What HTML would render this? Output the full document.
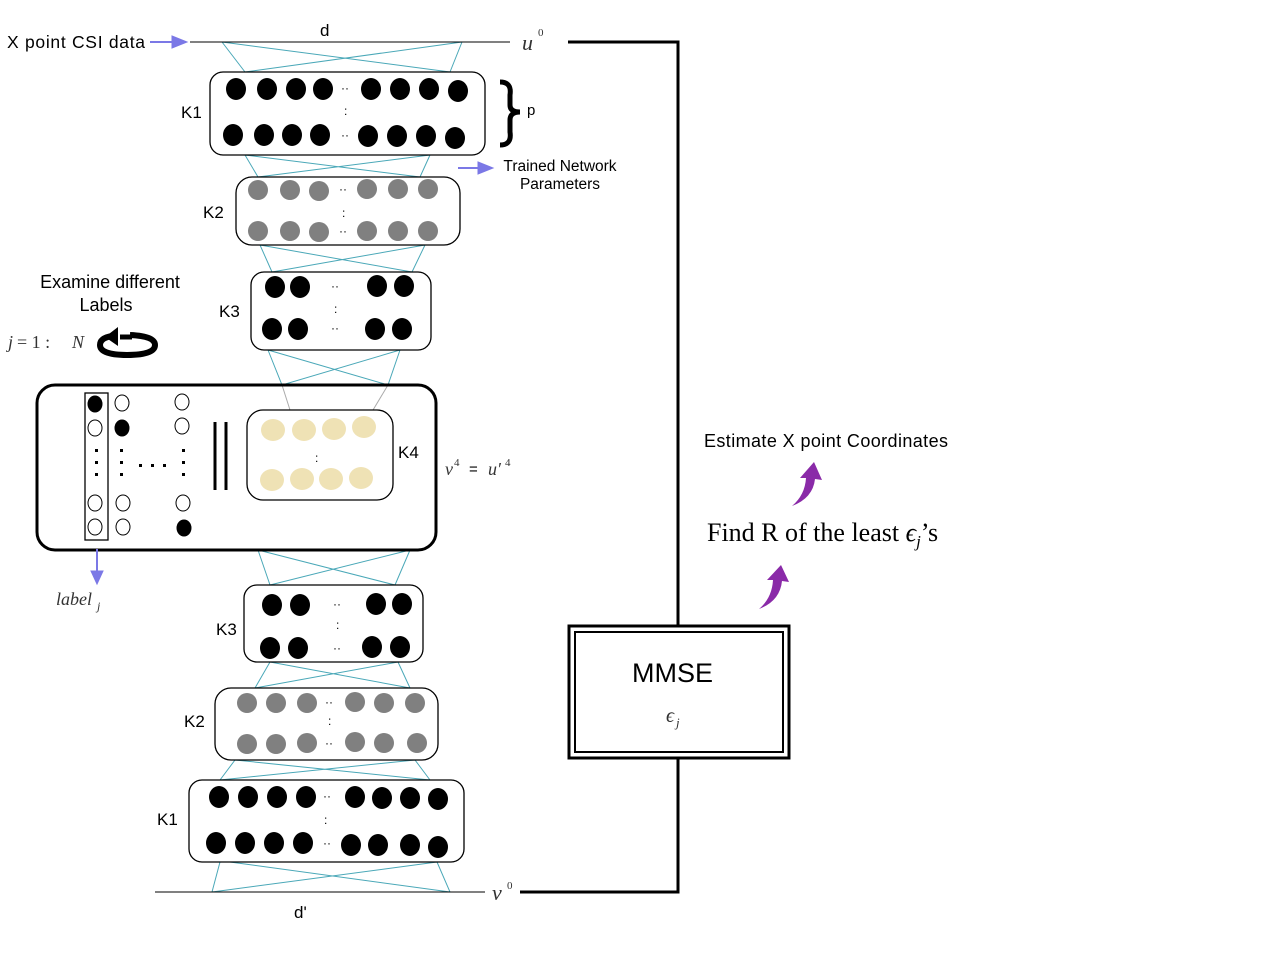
<!DOCTYPE html>
<html><head><meta charset="utf-8"><style>
html,body{margin:0;padding:0;background:#fff;width:1280px;height:976px;overflow:hidden}
svg{display:block}
.s{font-family:"Liberation Sans",sans-serif;fill:#000}
.m{font-family:"Liberation Serif",serif;font-style:italic;fill:#333}
</style></head><body>
<svg width="1280" height="976" viewBox="0 0 1280 976" xmlns="http://www.w3.org/2000/svg">
<g stroke="#4aa8b8" stroke-width="1" fill="none">
<path d="M222 42L245 72M462 42L450 72M222 42L450 72M462 42L245 72"/>
<path d="M245 155L258 177M430 155L420 177M245 155L420 177M430 155L258 177"/>
<path d="M260 245L272 272M425 245L412 272M260 245L412 272M425 245L272 272"/>
<path d="M268 350L282 385M400 350L388 385M268 350L388 385M400 350L282 385"/>
<path d="M258 550L270 585M410 550L395 585M258 550L395 585M410 550L270 585"/>
<path d="M270 662L255 688M398 662L410 688M270 662L410 688M398 662L255 688"/>
<path d="M235 760L220 780M415 760L430 780M235 760L430 780M415 760L220 780"/>
<path d="M220 862L212 892M437 862L450 892M230 862L450 892M437 862L212 892"/>
</g>
<g stroke="#aaa" stroke-width="1"><path d="M282 385L290 410M388 385L373 410"/></g>
<g stroke="#000" fill="none">
<path d="M190 42H510M155 892H485" stroke-width="1"/>
<path d="M568 42H678V625M678 759V892H520" stroke-width="3"/>
<rect x="569" y="626" width="220" height="132" stroke-width="3"/>
<rect x="575" y="632" width="208" height="120" stroke-width="2"/>
<rect x="210" y="72" width="275" height="83" rx="13" stroke-width="1.3"/>
<rect x="236" y="177" width="224" height="68" rx="16" stroke-width="1.3"/>
<rect x="251" y="272" width="180" height="78" rx="13" stroke-width="1.3"/>
<rect x="37" y="385" width="399" height="165" rx="18" stroke-width="3"/>
<rect x="247" y="410" width="146" height="90" rx="16" stroke-width="1.3"/>
<rect x="85" y="393" width="23" height="147" stroke-width="1.3"/>
<rect x="244" y="585" width="179" height="77" rx="13" stroke-width="1.3"/>
<rect x="215" y="688" width="223" height="72" rx="16" stroke-width="1.3"/>
<rect x="189" y="780" width="275" height="82" rx="13" stroke-width="1.3"/>
<path d="M215 422V490M226 422V490" stroke-width="3"/>
<path d="M500 82Q512 82 510 95V105Q510 112 520 112Q510 112 510 120V132Q512 145 500 145" stroke-width="5"/>
</g>
<g fill="#000">
<ellipse cx="236" cy="89" rx="10" ry="11"/><ellipse cx="267" cy="89" rx="10" ry="11"/><ellipse cx="296" cy="89" rx="10" ry="11"/><ellipse cx="323" cy="89" rx="10" ry="11"/><ellipse cx="371" cy="89" rx="10" ry="11"/><ellipse cx="400" cy="89" rx="10" ry="11"/><ellipse cx="429" cy="89" rx="10" ry="11"/><ellipse cx="458" cy="91" rx="10" ry="11"/>
<ellipse cx="233" cy="135" rx="10" ry="11"/><ellipse cx="264" cy="135" rx="10" ry="11"/><ellipse cx="292" cy="135" rx="10" ry="11"/><ellipse cx="320" cy="135" rx="10" ry="11"/><ellipse cx="368" cy="136" rx="10" ry="11"/><ellipse cx="397" cy="136" rx="10" ry="11"/><ellipse cx="426" cy="136" rx="10" ry="11"/><ellipse cx="455" cy="138" rx="10" ry="11"/>
<ellipse cx="275" cy="287" rx="10" ry="11"/><ellipse cx="300" cy="287" rx="10" ry="11"/><ellipse cx="377" cy="286" rx="10" ry="11"/><ellipse cx="404" cy="286" rx="10" ry="11"/>
<ellipse cx="272" cy="329" rx="10" ry="11"/><ellipse cx="298" cy="329" rx="10" ry="11"/><ellipse cx="375" cy="329" rx="10" ry="11"/><ellipse cx="402" cy="329" rx="10" ry="11"/>
<ellipse cx="272" cy="605" rx="10" ry="11"/><ellipse cx="300" cy="605" rx="10" ry="11"/><ellipse cx="376" cy="604" rx="10" ry="11"/><ellipse cx="402" cy="604" rx="10" ry="11"/>
<ellipse cx="270" cy="648" rx="10" ry="11"/><ellipse cx="298" cy="648" rx="10" ry="11"/><ellipse cx="372" cy="647" rx="10" ry="11"/><ellipse cx="400" cy="647" rx="10" ry="11"/>
<ellipse cx="219" cy="797" rx="10" ry="11"/><ellipse cx="248" cy="797" rx="10" ry="11"/><ellipse cx="277" cy="797" rx="10" ry="11"/><ellipse cx="306" cy="797" rx="10" ry="11"/><ellipse cx="355" cy="797" rx="10" ry="11"/><ellipse cx="382" cy="798" rx="10" ry="11"/><ellipse cx="410" cy="798" rx="10" ry="11"/><ellipse cx="438" cy="799" rx="10" ry="11"/>
<ellipse cx="216" cy="843" rx="10" ry="11"/><ellipse cx="245" cy="843" rx="10" ry="11"/><ellipse cx="274" cy="843" rx="10" ry="11"/><ellipse cx="303" cy="843" rx="10" ry="11"/><ellipse cx="351" cy="845" rx="10" ry="11"/><ellipse cx="378" cy="845" rx="10" ry="11"/><ellipse cx="410" cy="845" rx="10" ry="11"/><ellipse cx="438" cy="847" rx="10" ry="11"/>
</g>
<g fill="#808080">
<circle cx="258" cy="190" r="10"/><circle cx="290" cy="190" r="10"/><circle cx="319" cy="191" r="10"/><circle cx="367" cy="189" r="10"/><circle cx="398" cy="189" r="10"/><circle cx="428" cy="189" r="10"/>
<circle cx="258" cy="231" r="10"/><circle cx="290" cy="231" r="10"/><circle cx="319" cy="232" r="10"/><circle cx="367" cy="231" r="10"/><circle cx="398" cy="231" r="10"/><circle cx="428" cy="231" r="10"/>
<circle cx="247" cy="703" r="10"/><circle cx="276" cy="703" r="10"/><circle cx="307" cy="703" r="10"/><circle cx="355" cy="702" r="10"/><circle cx="384" cy="703" r="10"/><circle cx="415" cy="703" r="10"/>
<circle cx="247" cy="744" r="10"/><circle cx="276" cy="744" r="10"/><circle cx="307" cy="743" r="10"/><circle cx="355" cy="742" r="10"/><circle cx="384" cy="743" r="10"/><circle cx="417" cy="743" r="10"/>
</g>
<g fill="#efe2b5">
<ellipse cx="273" cy="430" rx="12" ry="11"/><ellipse cx="304" cy="430" rx="12" ry="11"/><ellipse cx="334" cy="429" rx="12" ry="11"/><ellipse cx="364" cy="427" rx="12" ry="11"/>
<ellipse cx="272" cy="480" rx="12" ry="11"/><ellipse cx="302" cy="479" rx="12" ry="11"/><ellipse cx="331" cy="479" rx="12" ry="11"/><ellipse cx="361" cy="478" rx="12" ry="11"/>
</g>
<g stroke="#000" stroke-width="1" fill="#fff">
<ellipse cx="95" cy="404" rx="7" ry="8" fill="#000"/><ellipse cx="95" cy="428" rx="7" ry="8"/><ellipse cx="95" cy="503" rx="7" ry="8"/><ellipse cx="95" cy="527" rx="7" ry="8"/>
<ellipse cx="122" cy="403" rx="7" ry="8"/><ellipse cx="122" cy="428" rx="7" ry="8" fill="#000"/><ellipse cx="123" cy="503" rx="7" ry="8"/><ellipse cx="123" cy="527" rx="7" ry="8"/>
<ellipse cx="182" cy="402" rx="7" ry="8"/><ellipse cx="182" cy="426" rx="7" ry="8"/><ellipse cx="183" cy="503" rx="7" ry="8"/><ellipse cx="184" cy="528" rx="7" ry="8" fill="#000"/>
</g>
<g fill="#000">
<rect x="95" y="449" width="3" height="3"/><rect x="95" y="461" width="3" height="3"/><rect x="95" y="473" width="3" height="3"/>
<rect x="120" y="449" width="3" height="3"/><rect x="120" y="461" width="3" height="3"/><rect x="120" y="473" width="3" height="3"/>
<rect x="182" y="449" width="3" height="3"/><rect x="182" y="461" width="3" height="3"/><rect x="182" y="473" width="3" height="3"/>
<rect x="139" y="464" width="3" height="3"/><rect x="151" y="464" width="3" height="3"/><rect x="163" y="464" width="3" height="3"/>
</g>
<g class="s" font-size="12">
<text x="341" y="92">··</text><text x="341" y="139">··</text><text x="344" y="115">:</text>
<text x="339" y="193">··</text><text x="339" y="235">··</text><text x="342" y="217">:</text>
<text x="331" y="290">··</text><text x="331" y="332">··</text><text x="334" y="313">:</text>
<text x="315" y="462">:</text>
<text x="333" y="608">··</text><text x="333" y="652">··</text><text x="336" y="629">:</text>
<text x="325" y="706">··</text><text x="325" y="747">··</text><text x="328" y="725">:</text>
<text x="323" y="800">··</text><text x="323" y="847">··</text><text x="324" y="824">:</text>
</g>
<g fill="#7b78e6" stroke="#7b78e6">
<path d="M150 42H175" stroke-width="2"/><path d="M172 36L187 42L172 48Z"/>
<path d="M458 168H480" stroke-width="2"/><path d="M478 162L493 168L478 174Z"/>
<path d="M97 549V573" stroke-width="2"/><path d="M91 571L97 584L103 571Z"/>
</g>
<g fill="#8a2aa8">
<path d="M792 506Q805 495 806 478L800 478L814 462L822 480L815 479Q813 498 792 506Z"/>
<path d="M759 609Q772 598 773 580L767 580L781 565L789 582L782 581Q780 601 759 609Z"/>
</g>
<path d="M112 336Q100 338 100 345Q100 355 127 355Q155 355 155 345Q155 336 130 335" stroke="#000" stroke-width="6" fill="none"/>
<path d="M118 327L105 337L118 346Z" fill="#000"/>
<path d="M120 337H132" stroke="#000" stroke-width="5"/>
<g class="s">
<text x="7" y="48" font-size="17.5" textLength="138">X point CSI data</text>
<text x="320" y="36" font-size="17">d</text>
<text x="181" y="118" font-size="17">K1</text>
<text x="527" y="115" font-size="15">p</text>
<text x="560" y="171" font-size="15.5" text-anchor="middle">Trained Network</text>
<text x="560" y="189" font-size="15.5" text-anchor="middle">Parameters</text>
<text x="203" y="218" font-size="17">K2</text>
<text x="219" y="317" font-size="17">K3</text>
<text x="110" y="288" font-size="18" text-anchor="middle">Examine different</text>
<text x="106" y="311" font-size="18" text-anchor="middle">Labels</text>
<text x="398" y="458" font-size="17">K4</text>
<text x="216" y="635" font-size="17">K3</text>
<text x="184" y="727" font-size="17">K2</text>
<text x="157" y="825" font-size="17">K1</text>
<text x="294" y="918" font-size="17">d'</text>
<text x="704" y="447" font-size="18" textLength="244">Estimate X point Coordinates</text>
<text x="632" y="682" font-size="27">MMSE</text>
<text x="469" y="474" font-size="15">=</text>
</g>
<g class="m">
<text x="522" y="50" font-size="22">u</text><text x="538" y="36" font-size="11" font-style="normal">0</text>
<text x="492" y="900" font-size="22">v</text><text x="507" y="889" font-size="11" font-style="normal">0</text>
<text x="8" y="348" font-size="18">j</text><text x="17" y="348" font-size="18" font-style="normal">= 1 :</text><text x="72" y="348" font-size="18">N</text>
<text x="445" y="475" font-size="18">v</text><text x="454" y="466" font-size="11" font-style="normal">4</text>
<text x="488" y="475" font-size="18">u′</text><text x="505" y="466" font-size="11" font-style="normal">4</text>
<text x="56" y="605" font-size="18">label</text><text x="97" y="610" font-size="12">j</text>
<text x="666" y="722" font-size="20">ϵ</text><text x="676" y="727" font-size="13">j</text>
</g>
<g font-family="Liberation Serif,serif" font-size="26" fill="#000">
<text x="707" y="541">Find R of the least <tspan font-style="italic">ϵ</tspan><tspan font-style="italic" font-size="17" dy="6">j</tspan><tspan dy="-6">’s</tspan></text>
</g>
</svg>
</body></html>
